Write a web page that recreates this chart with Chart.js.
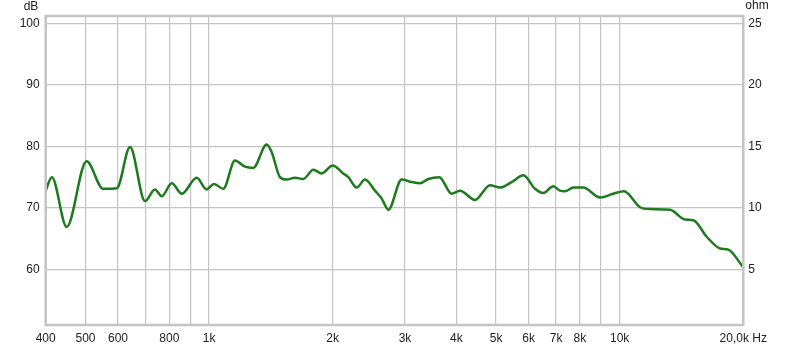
<!DOCTYPE html>
<html>
<head>
<meta charset="utf-8">
<script src="https://cdn.jsdelivr.net/npm/chart.js@4"></script>
<style>
html,body{margin:0;padding:0;background:#fff;}
#wrap{width:800px;height:348px;position:relative;}
</style>
</head>
<body>
<div id="wrap"><canvas id="c" width="800" height="348"></canvas></div>
<script>
const freqs = [400,414,450,503,552,596,642,698,738,767,811,858,933,986,1028,1083,1156,1223,1281,1381,1420,1488,1545,1619,1696,1794,1880,2000,2122,2183,2288,2397,2535,2633,2732,2945,3115,3263,3418,3635,3898,4084,4441,4833,5111,5457,5828,6221,6516,6892,7155,7357,7710,8152,8955,9649,10245,11209,11853,13260,14424,15111,16290,17553,18388,20000];
const splDb = [72.8,75.0,66.9,77.6,73.1,73.2,79.9,71.1,73.0,71.9,74.0,72.3,74.9,73.0,73.9,73.1,77.7,76.7,76.5,80.3,79.1,75.0,74.6,74.9,74.7,76.2,75.6,76.9,75.6,75.0,73.3,74.6,72.8,71.5,69.7,74.6,74.2,74.0,74.7,75.0,72.3,72.8,71.3,73.7,73.3,74.2,75.3,73.1,72.4,73.5,72.8,72.7,73.3,73.3,71.7,72.3,72.7,70.1,69.8,69.7,68.1,68.0,65.3,63.4,63.2,60.3];
const xGridTicks = [500,600,700,800,900,1000,2000,3000,4000,5000,6000,7000,8000,9000,10000,20000];
const xTickLabels = {400:'400',500:'500',600:'600',800:'800',1000:'1k',2000:'2k',3000:'3k',4000:'4k',5000:'5k',6000:'6k',7000:'7k',8000:'8k',10000:'10k',20000:'20,0k Hz'};
const dbTicks = [60,70,80,90,100];
const ohmTicks = [5,10,15,20,25];

const DB_MIN = 50.94, DB_MAX = 101.22;
const FONT = {family: '"Liberation Sans", Arial, sans-serif', size: 12};

const framePlugin = {
  id: 'frame',
  afterDraw(chart) {
    const {ctx, chartArea: a} = chart;
    ctx.save();
    ctx.strokeStyle = '#c4c4c4';
    ctx.lineWidth = 2.5;
    ctx.strokeRect(a.left, a.top, a.right - a.left, a.bottom - a.top);
    ctx.fillStyle = '#222';
    ctx.font = '12px "Liberation Sans", Arial, sans-serif';
    ctx.textAlign = 'center';
    ctx.textBaseline = 'middle';
    ctx.fillText('dB', 31, 7);
    ctx.fillText('ohm', 757, 6);
    ctx.restore();
  }
};

new Chart(document.getElementById('c'), {
  type: 'line',
  data: {
    datasets: [{
      data: freqs.map((f, i) => ({x: f, y: splDb[i]})),
      borderColor: '#1d7a1d',
      borderWidth: 2.5,
      pointRadius: 0,
      cubicInterpolationMode: 'monotone',
      fill: false,
      yAxisID: 'y'
    }]
  },
  options: {
    responsive: false,
    animation: false,
    devicePixelRatio: 1,
    layout: {padding: {top: 16, bottom: 0, left: 0, right: 0}},
    plugins: {legend: {display: false}, tooltip: {enabled: false}},
    scales: {
      x: {
        type: 'logarithmic',
        min: 400, max: 20000,
        afterBuildTicks: s => { s.ticks = [400, ...xGridTicks].map(v => ({value: v})); },
        afterFit: s => { s.height = 23; },
        grid: {color: ctx => (ctx.tick && (ctx.tick.value === 400 || ctx.tick.value === 20000)) ? 'rgba(0,0,0,0)' : '#c4c4c4', lineWidth: 1.2, drawTicks: false},
        border: {display: false},
        ticks: {
          autoSkip: false, maxRotation: 0, padding: 6,
          color: '#222', font: FONT,
          callback: v => xTickLabels[v] || ''
        }
      },
      y: {
        position: 'left',
        min: DB_MIN, max: DB_MAX,
        afterBuildTicks: s => { s.ticks = dbTicks.map(v => ({value: v})); },
        afterFit: s => { s.width = 45.7; },
        grid: {color: '#c4c4c4', lineWidth: 1.2, drawTicks: false},
        border: {display: false},
        ticks: {padding: 6, color: '#222', font: FONT}
      },
      y2: {
        position: 'right',
        min: (DB_MIN - 50) / 2, max: (DB_MAX - 50) / 2,
        afterBuildTicks: s => { s.ticks = ohmTicks.map(v => ({value: v})); },
        afterFit: s => { s.width = 56.7; },
        grid: {display: false, drawTicks: false},
        border: {display: false},
        ticks: {padding: 5, color: '#222', font: FONT}
      }
    }
  },
  plugins: [framePlugin]
});
</script>
</body>
</html>
